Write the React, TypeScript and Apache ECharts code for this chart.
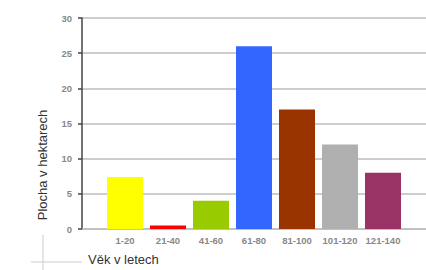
import React, { useEffect, useRef } from "react";
import * as echarts from "echarts";

const categories = ["1-20", "21-40", "41-60", "61-80", "81-100", "101-120", "121-140"];
const areaValues = [7.4, 0.5, 4, 26, 17, 12, 8];
const barColors = ["#ffff00", "#ff0000", "#99cc00", "#3366ff", "#993300", "#b0b0b0", "#993366"];
const yTitle = "Plocha v hektarech";
const xTitle = "Věk v letech";

const FONT = "'Liberation Sans', Arial, sans-serif";

export default function App() {
  const ref = useRef<HTMLDivElement>(null);
  useEffect(() => {
    if (!ref.current) return;
    const chart = echarts.init(ref.current, undefined, { renderer: "svg" });
    chart.setOption({
      animation: false,
      grid: { left: 82, right: 0, top: 18, bottom: 41, containLabel: false },
      xAxis: {
        type: "value",
        min: 0,
        max: categories.length + 1,
        interval: 1,
        axisLine: { show: true, lineStyle: { color: "#bdbdbd", width: 1.5 } },
        axisTick: { show: false },
        splitLine: { show: false },
        axisLabel: {
          margin: 6,
          color: "#888",
          fontWeight: "bold",
          fontSize: 9.5,
          fontFamily: FONT,
          showMinLabel: false,
          showMaxLabel: false,
          formatter: (v: number) => categories[v - 1] ?? "",
        },
      },
      yAxis: {
        type: "value",
        min: 0,
        max: 30,
        interval: 5,
        axisLine: { show: true, lineStyle: { color: "#444", width: 1.5 } },
        axisTick: { show: true, length: 4, lineStyle: { color: "#444", width: 1.5 } },
        splitLine: { show: true, lineStyle: { color: "#bdbdbd", width: 1.5 } },
        axisLabel: {
          margin: 10,
          color: "#888",
          fontWeight: "bold",
          fontSize: 9.5,
          fontFamily: FONT,
        },
      },
      series: [
        {
          type: "bar",
          barWidth: 36,
          data: areaValues.map((v, i) => ({
            value: [i + 1, v],
            itemStyle: { color: barColors[i] },
          })),
        },
      ],
      graphic: [
        {
          type: "text",
          x: 42,
          y: 165,
          rotation: Math.PI / 2,
          style: {
            text: yTitle,
            fill: "#333",
            font: `13px ${FONT}`,
            textAlign: "center",
            textVerticalAlign: "middle",
          },
        },
        {
          type: "text",
          x: 88,
          y: 259,
          style: {
            text: xTitle,
            fill: "#333",
            font: `13px ${FONT}`,
            textAlign: "left",
            textVerticalAlign: "middle",
          },
        },
        {
          type: "line",
          shape: { x1: 43, y1: 235, x2: 43, y2: 270 },
          style: { stroke: "#ccc", lineWidth: 1 },
        },
        {
          type: "line",
          shape: { x1: 31, y1: 262, x2: 82, y2: 262 },
          style: { stroke: "#ccc", lineWidth: 1 },
        },
      ],
    });
    return () => chart.dispose();
  }, []);
  return <div ref={ref} style={{ width: 426, height: 270, position: "absolute", left: 0, top: 0 }} />;
}
